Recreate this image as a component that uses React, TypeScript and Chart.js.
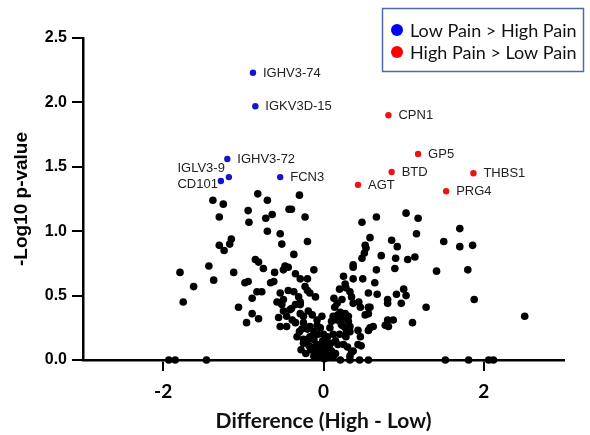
import { useEffect, useRef } from "react";
import { Chart, registerables } from "chart.js";

Chart.register(...registerables);

// ---------- data ----------
const xTicks = [-2, 0, 2];
const yTicks = [0, 0.5, 1, 1.5, 2, 2.5];
const seriesNames = ["Low Pain > High Pain", "High Pain > Low Pain"];

const lowGenes = ["IGHV3-74", "IGKV3D-15", "IGHV3-72", "IGLV3-9", "CD101", "FCN3"];
const lowDiff = [-0.88, -0.85, -1.2, -1.18, -1.28, -0.54];
const lowLogP = [2.23, 1.97, 1.56, 1.42, 1.39, 1.42];

const highGenes = ["CPN1", "GP5", "BTD", "THBS1", "AGT", "PRG4"];
const highDiff = [0.81, 1.18, 0.85, 1.87, 0.43, 1.53];
const highLogP = [1.9, 1.6, 1.46, 1.45, 1.36, 1.31];

const otherDiff = [
  -0.82, -1.38, -1.25, -0.7, -0.3, -1.3, -0.94, -0.93, -0.72, -0.64,
  -0.43, -0.4, -0.23, -0.7, -0.54, -0.2, -1.15, -1.17, -1.3, -1.24,
  -0.52, -0.37, -0.85, -0.81, -0.75, -1.43, -1.79, -1.12, -1.37, -1.62,
  -1.75, -0.48, -0.44, -0.5, -0.61, -0.12, -0.66, -0.62, -0.98, -0.94,
  -0.29, -0.2, -0.83, -0.77, -0.89, -0.54, -0.44, -0.37, -0.23, -0.2,
  -0.17, -0.1, -0.58, -0.5, -0.52, -0.29, -0.29, -1.06, -0.89, -0.96,
  -0.81, -0.56, -0.5, -0.42, -0.46, -0.39, -0.29, -0.25, -0.19, -0.14,
  -0.02, -0.54, -0.46, -0.35, -0.25, -0.17, -0.08, -0.08, -0.25, -0.19,
  -0.12, -0.25, 0.12, -0.35, -0.31, -0.4, -0.35, -0.27, -0.2, -0.17,
  -0.16, -0.12,
  -0.12, -0.08, -0.05, -0.02, 0.0, 0.03, 0.05, 0.08, -0.06, -0.03,
  0.02, 0.06, 0.1, 0.12, -0.1, -0.15, 0.15, 0.18, 0.01, -0.01,
  0.04, -0.18, 0.09,
  0.05, 0.08, 0.1, 0.12, 0.15, 0.2, 0.22, 0.18, 0.25, 0.3,
  0.28, 0.13, 0.2, 0.07, -0.07, -0.12, -0.15, -0.3, -0.33, -0.22,
  -0.28, -0.04, 0.0,
  0.21, 0.25, 0.17, 0.23, 0.31, 0.33, 0.29, 0.27, 0.43, 0.43,
  0.37, 0.33,
  0.48, 0.66, 1.03, 1.18, 1.16, 0.58, 0.85, 0.92, 0.52, 0.53,
  0.51, 0.72, 0.9, 1.05, 1.14, 0.48, 0.37, 0.37, 0.66, 0.89,
  0.25, 0.37, 0.49, 0.64, 0.27, 0.28, 0.33, 0.35, 0.56, 0.67,
  1.0, 1.03, 0.91, 0.97, 0.8, 0.8, 0.23, 0.17, 0.14, 0.37,
  0.44, 0.46, 0.56, 0.58, 1.28, 0.27, 0.31, 0.23, 0.52, 0.56,
  0.8, 0.87, 0.77, 0.81, 1.11, 0.58, 0.62, 0.56, 0.46, 0.33,
  0.27, 0.47, 0.35, 1.41, 1.5, 1.7, 1.7, 1.86, 1.8, 1.88,
  2.51,
  -1.93, -1.85, -1.46, 0.21, 0.33, 0.45, 0.56, 1.52, 1.81, 2.06,
  2.12,
];
const otherLogP = [
  1.29, 1.24, 1.21, 1.24, 1.28, 1.11, 1.16, 1.07, 1.1, 1.13,
  1.17, 1.17, 1.11, 1.0, 0.98, 0.92, 0.94, 0.9, 0.89, 0.85,
  0.9, 0.82, 0.78, 0.76, 0.71, 0.73, 0.68, 0.68, 0.62, 0.57,
  0.45, 0.73, 0.72, 0.7, 0.68, 0.7, 0.6, 0.61, 0.6, 0.61,
  0.63, 0.63, 0.53, 0.53, 0.48, 0.52, 0.54, 0.53, 0.57, 0.54,
  0.52, 0.49, 0.45, 0.47, 0.43, 0.45, 0.43, 0.41, 0.36, 0.29,
  0.32, 0.33, 0.38, 0.39, 0.34, 0.31, 0.36, 0.34, 0.38, 0.35,
  0.34, 0.26, 0.26, 0.29, 0.29, 0.26, 0.31, 0.27, 0.16, 0.16,
  0.16, 0.13, 0.34, 0.67, 0.49, 0.4, 0.43, 0.24, 0.24, 0.18,
  0.08, 0.03,
  0.1, 0.12, 0.08, 0.05, 0.03, 0.06, 0.02, 0.04, 0.03, 0.11,
  0.09, 0.1, 0.07, 0.02, 0.05, 0.08, 0.05, 0.12, 0.01, 0.15,
  0.14, 0.11, 0.13,
  0.18, 0.25, 0.3, 0.2, 0.15, 0.2, 0.28, 0.35, 0.12, 0.1,
  0.18, 0.48, 0.55, 0.1, 0.2, 0.22, 0.18, 0.22, 0.18, 0.05,
  0.08, 0.25, 0.2,
  0.37, 0.33, 0.31, 0.27, 0.3, 0.26, 0.23, 0.19, 0.23, 0.12,
  0.07, 0.03,
  1.07, 1.11, 1.14, 1.1, 0.98, 0.95, 0.93, 0.88, 0.89, 0.87,
  0.83, 0.81, 0.79, 0.78, 0.8, 0.79, 0.74, 0.72, 0.7, 0.71,
  0.65, 0.63, 0.63, 0.6, 0.59, 0.56, 0.53, 0.49, 0.52, 0.51,
  0.55, 0.5, 0.51, 0.44, 0.47, 0.44, 0.47, 0.44, 0.41, 0.44,
  0.45, 0.41, 0.41, 0.41, 0.41, 0.36, 0.34, 0.32, 0.35, 0.36,
  0.31, 0.31, 0.27, 0.26, 0.29, 0.25, 0.26, 0.23, 0.18, 0.22,
  0.25, 0.11, 0.06, 0.69, 0.92, 1.02, 0.88, 0.89, 0.7, 0.47,
  0.34,
  0, 0, 0, 0, 0, 0, 0, 0, 0, 0,
  0,
];

// ---------- styles ----------
const ARIAL = "'Liberation Sans', Arial, sans-serif";
const CALIBRI = "Lato, 'Open Sans', sans-serif";
const legendColors = ["#0000ff", "#ff0000"];
const leftLabels: Record<string, { dx: number; dy: number }> = {
  "IGLV3-9": { dx: -4, dy: -9 },
  CD101: { dx: -3, dy: 3 },
};

const toPoints = (xs: number[], ys: number[]) =>
  xs.map((x, i) => ({ x, y: ys[i] }));

const geneLabelPlugin = {
  id: "geneLabels",
  afterDatasetsDraw(chart: any) {
    const ctx = chart.ctx;
    ctx.save();
    ctx.font = `13px ${ARIAL}`;
    ctx.fillStyle = "#222";
    ctx.textBaseline = "middle";
    chart.data.datasets.forEach((ds: any, i: number) => {
      if (!ds.genes) return;
      const meta = chart.getDatasetMeta(i);
      meta.data.forEach((el: any, j: number) => {
        const name = ds.genes[j];
        const lp = leftLabels[name];
        if (lp) {
          ctx.textAlign = "right";
          ctx.fillText(name, el.x + lp.dx, el.y + lp.dy);
        } else {
          ctx.textAlign = "left";
          ctx.fillText(name, el.x + 10, el.y + 0.5);
        }
      });
    });
    ctx.restore();
  },
};

const boxLegendPlugin = {
  id: "boxLegend",
  afterDraw(chart: any) {
    const ctx = chart.ctx;
    ctx.save();
    ctx.strokeStyle = "#4a6bb0";
    ctx.lineWidth = 1.5;
    ctx.strokeRect(382.5, 8.5, 201, 63);
    ctx.font = `18px ${CALIBRI}`;
    ctx.textBaseline = "middle";
    ctx.textAlign = "left";
    seriesNames.forEach((name, i) => {
      const cy = 30 + i * 22;
      ctx.fillStyle = legendColors[i];
      ctx.beginPath();
      ctx.arc(397, cy, 6, 0, Math.PI * 2);
      ctx.fill();
      ctx.fillStyle = "#111";
      ctx.fillText(name, 410, cy + 1);
    });
    ctx.restore();
  },
};

export default function App() {
  const ref = useRef<HTMLCanvasElement>(null);

  useEffect(() => {
    if (!ref.current) return;
    const gridOpts = {
      drawOnChartArea: false,
      drawTicks: true,
      tickLength: 11,
      tickWidth: 2,
      tickColor: "#000",
      color: "#000",
      lineWidth: 2,
    };
    const chart = new Chart(ref.current, {
      type: "scatter",
      data: {
        datasets: [
          {
            label: "Other",
            data: toPoints(otherDiff, otherLogP),
            backgroundColor: "#000",
            borderWidth: 0,
            pointRadius: 3.8,
            clip: false,
          } as any,
          {
            label: seriesNames[0],
            data: toPoints(lowDiff, lowLogP),
            backgroundColor: "#1414c8",
            borderWidth: 0,
            pointRadius: 3.2,
            clip: false,
            genes: lowGenes,
          } as any,
          {
            label: seriesNames[1],
            data: toPoints(highDiff, highLogP),
            backgroundColor: "#ee1111",
            borderWidth: 0,
            pointRadius: 3.2,
            clip: false,
            genes: highGenes,
          } as any,
        ],
      },
      options: {
        animation: false,
        responsive: true,
        maintainAspectRatio: false,
        layout: { padding: { top: 38, right: 26, left: 0, bottom: 0 } },
        plugins: {
          legend: { display: false },
          tooltip: { enabled: false },
        },
        scales: {
          x: {
            type: "linear",
            min: -3,
            max: 3,
            afterBuildTicks: (s: any) => {
              s.ticks = xTicks.map((v) => ({ value: v }));
            },
            afterFit: (s: any) => {
              s.height = 75;
            },
            ticks: {
              font: { family: CALIBRI, weight: "bold", size: 19 },
              color: "#000",
              padding: 9,
              maxRotation: 0,
              autoSkip: false,
              callback: (v: any) => String(v),
            },
            grid: gridOpts,
            border: { display: true, color: "#000", width: 2.5 },
            title: {
              display: true,
              text: "Difference (High - Low)",
              font: { family: CALIBRI, weight: "bold", size: 21 },
              color: "#111",
              padding: { top: 0, bottom: 1 },
            },
          },
          y: {
            type: "linear",
            min: 0,
            max: 2.5,
            afterBuildTicks: (s: any) => {
              s.ticks = yTicks.map((v) => ({ value: v }));
            },
            afterFit: (s: any) => {
              s.width = 83;
            },
            ticks: {
              font: { family: ARIAL, weight: "bold", size: 16 },
              color: "#000",
              padding: 5,
              callback: (v: any) => Number(v).toFixed(1),
            },
            grid: gridOpts,
            border: { display: true, color: "#000", width: 2.5 },
            title: {
              display: true,
              text: "-Log10 p-value",
              font: { family: ARIAL, weight: "bold", size: 19 },
              color: "#000",
              padding: { top: 10, bottom: 0 },
            },
          },
        },
      } as any,
      plugins: [geneLabelPlugin, boxLegendPlugin],
    });
    return () => chart.destroy();
  }, []);

  return (
    <div
      style={{
        position: "fixed",
        left: 0,
        top: 0,
        width: 590,
        height: 435,
        background: "#fff",
      }}
    >
      <canvas ref={ref} />
    </div>
  );
}
